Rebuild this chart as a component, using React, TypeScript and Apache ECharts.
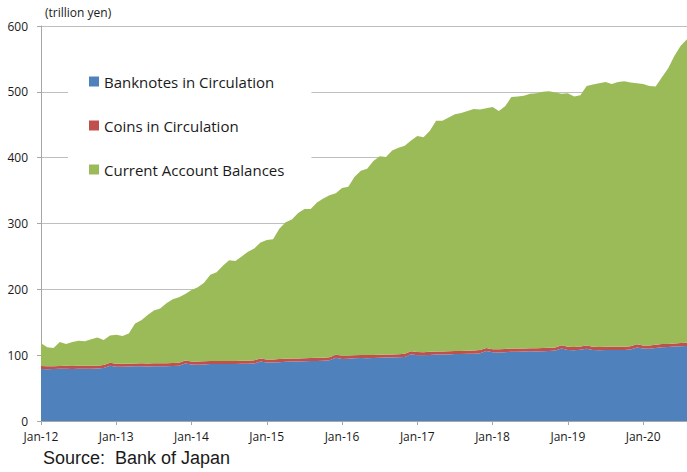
import React, { useEffect, useRef } from "react";
import * as echarts from "echarts";

const MONTHS = ["Jan", "Feb", "Mar", "Apr", "May", "Jun", "Jul", "Aug", "Sep", "Oct", "Nov", "Dec"];
const YEARS = ["12", "13", "14", "15", "16", "17", "18", "19", "20"];
const LAST_MONTH_COUNT = 8; // 2020 runs Jan..Aug

const BANKNOTES = [
  79.0, 78.6, 78.8, 79.2, 79.3, 79.1, 79.3, 79.3, 79.4, 79.6, 80.5, 84.0,
  82.5, 82.3, 82.6, 83.0, 83.1, 82.9, 83.2, 83.1, 83.3, 83.5, 84.0, 87.3,
  85.8, 85.6, 86.0, 86.6, 86.5, 86.4, 86.7, 86.6, 86.8, 87.0, 87.5, 90.5,
  89.0, 88.8, 89.4, 90.1, 90.3, 90.3, 90.8, 91.0, 91.3, 91.6, 92.2, 96.0,
  94.3, 94.5, 95.2, 95.6, 95.5, 95.6, 96.0, 96.3, 96.5, 96.7, 97.3, 101.3,
  100.0, 99.8, 100.4, 101.0, 101.0, 101.2, 101.6, 101.8, 102.0, 102.3, 103.0, 106.3,
  104.3, 104.0, 104.6, 105.3, 105.3, 105.4, 105.8, 105.7, 106.0, 106.3, 107.0, 110.2,
  107.8, 107.5, 108.4, 109.8, 107.8, 107.6, 107.9, 107.8, 107.9, 108.0, 108.6, 111.8,
  110.0, 109.8, 111.0, 112.0, 112.3, 113.0, 113.5, 114.0,
];

const COINS = [
  4.5, 4.5, 4.5, 4.5, 4.5, 4.5, 4.5, 4.5, 4.5, 4.5, 4.5, 4.5,
  4.5, 4.5, 4.5, 4.5, 4.5, 4.5, 4.5, 4.5, 4.5, 4.5, 4.5, 4.5,
  4.6, 4.6, 4.6, 4.6, 4.6, 4.6, 4.6, 4.6, 4.6, 4.6, 4.6, 4.6,
  4.6, 4.6, 4.6, 4.6, 4.6, 4.6, 4.6, 4.6, 4.6, 4.6, 4.6, 4.6,
  4.7, 4.7, 4.7, 4.7, 4.7, 4.7, 4.7, 4.7, 4.7, 4.7, 4.7, 4.7,
  4.7, 4.7, 4.7, 4.7, 4.7, 4.7, 4.7, 4.7, 4.7, 4.7, 4.7, 4.7,
  4.8, 4.8, 4.8, 4.8, 4.8, 4.8, 4.8, 4.8, 4.8, 4.8, 4.8, 4.8,
  4.8, 4.8, 4.8, 4.8, 4.8, 4.8, 4.8, 4.8, 4.8, 4.8, 4.8, 4.8,
  4.8, 4.8, 4.8, 4.8, 4.8, 4.8, 4.8, 4.8,
];

const CURRENT_ACCOUNT = [
  34.5, 28.9, 27.7, 36.3, 33.2, 36.4, 38.2, 37.2, 40.1, 42.9, 38.0, 41.5,
  44.0, 42.2, 45.9, 60.5, 65.4, 73.6, 80.3, 83.4, 91.2, 97.0, 99.5, 101.2,
  108.6, 112.8, 119.4, 130.8, 134.9, 145.0, 152.7, 151.8, 158.6, 165.4, 169.9, 175.9,
  181.4, 182.6, 198.0, 207.3, 211.1, 221.1, 226.6, 226.4, 236.1, 241.8, 246.2, 245.4,
  255.0, 256.8, 271.1, 279.7, 282.8, 294.7, 301.3, 300.0, 309.8, 313.6, 316.0, 320.0,
  328.3, 326.5, 335.9, 350.3, 350.3, 355.1, 359.7, 361.5, 364.3, 367.0, 365.3, 364.0,
  367.9, 362.2, 368.6, 381.9, 382.9, 383.8, 386.4, 387.5, 389.2, 389.9, 387.2, 382.0,
  385.4, 380.7, 381.8, 394.4, 398.4, 400.6, 402.3, 399.4, 402.3, 403.2, 400.6, 396.4,
  397.2, 394.4, 392.2, 405.2, 418.9, 437.2, 451.7, 461.2,
];

const SERIES_NAMES = ["Banknotes in Circulation", "Coins in Circulation", "Current Account Balances"];
const Y_TICKS = { min: 0, max: 600, interval: 100 };

export default function App() {
  const ref = useRef<HTMLDivElement>(null);

  useEffect(() => {
    if (!ref.current) return;
    const chart = echarts.init(ref.current, null, { renderer: "svg" });

    const categories: string[] = [];
    YEARS.forEach((y, yi) => {
      const n = yi === YEARS.length - 1 ? LAST_MONTH_COUNT : 12;
      for (let m = 0; m < n; m++) categories.push(`${MONTHS[m]}-${y}`);
    });

    const font = "Open Sans";
    const mk = (name: string, data: number[], color: string) => ({
      name,
      type: "line",
      stack: "total",
      data,
      showSymbol: false,
      symbol: "none",
      lineStyle: { width: 0 },
      itemStyle: { color },
      areaStyle: { color, opacity: 1 },
    });

    chart.setOption({
      animation: false,
      backgroundColor: "#ffffff",
      textStyle: { fontFamily: font },
      grid: { left: 41, right: 0, top: 26, bottom: 51, containLabel: false },
      legend: {
        orient: "vertical",
        left: 68,
        top: 43,
        padding: [31, 27, 30, 21],
        backgroundColor: "#ffffff",
        itemWidth: 10,
        itemHeight: 10,
        itemGap: 29,
        icon: "rect",
        textStyle: { fontFamily: font, fontSize: 15, color: "#1a1a1a" },
        data: SERIES_NAMES,
      },
      xAxis: {
        type: "category",
        data: categories,
        boundaryGap: false,
        axisLine: { lineStyle: { color: "#a6a6a6" } },
        axisTick: { show: true, interval: 11, length: 4, lineStyle: { color: "#a6a6a6" } },
        axisLabel: { interval: 11, fontSize: 12, color: "#1a1a1a", margin: 9, fontFamily: font },
        splitLine: { show: false },
      },
      yAxis: {
        type: "value",
        min: Y_TICKS.min,
        max: Y_TICKS.max,
        interval: Y_TICKS.interval,
        name: "(trillion yen)",
        nameLocation: "end",
        nameGap: 8,
        nameTextStyle: { align: "left", fontSize: 12, color: "#1a1a1a", padding: [0, 0, 0, 4], fontFamily: font },
        axisLine: { show: true, lineStyle: { color: "#a6a6a6" } },
        axisTick: { show: true, length: 4, lineStyle: { color: "#a6a6a6" } },
        axisLabel: { fontSize: 12, color: "#1a1a1a", margin: 13, fontFamily: font },
        splitLine: { show: true, lineStyle: { color: "#bfbfbf", width: 1 } },
      },
      series: [
        mk(SERIES_NAMES[0], BANKNOTES, "#4f81bd"),
        mk(SERIES_NAMES[1], COINS, "#c0504d"),
        mk(SERIES_NAMES[2], CURRENT_ACCOUNT, "#9bbb59"),
      ],
      graphic: [
        {
          type: "text",
          left: 43,
          top: 449,
          style: {
            text: "Source:  Bank of Japan",
            fontFamily: "Liberation Sans",
            fontSize: 18,
            fill: "#1a1a1a",
          },
        },
      ],
    });

    return () => chart.dispose();
  }, []);

  return (
    <div
      ref={ref}
      style={{ position: "fixed", left: 0, top: 0, width: 687, height: 472 }}
    />
  );
}
